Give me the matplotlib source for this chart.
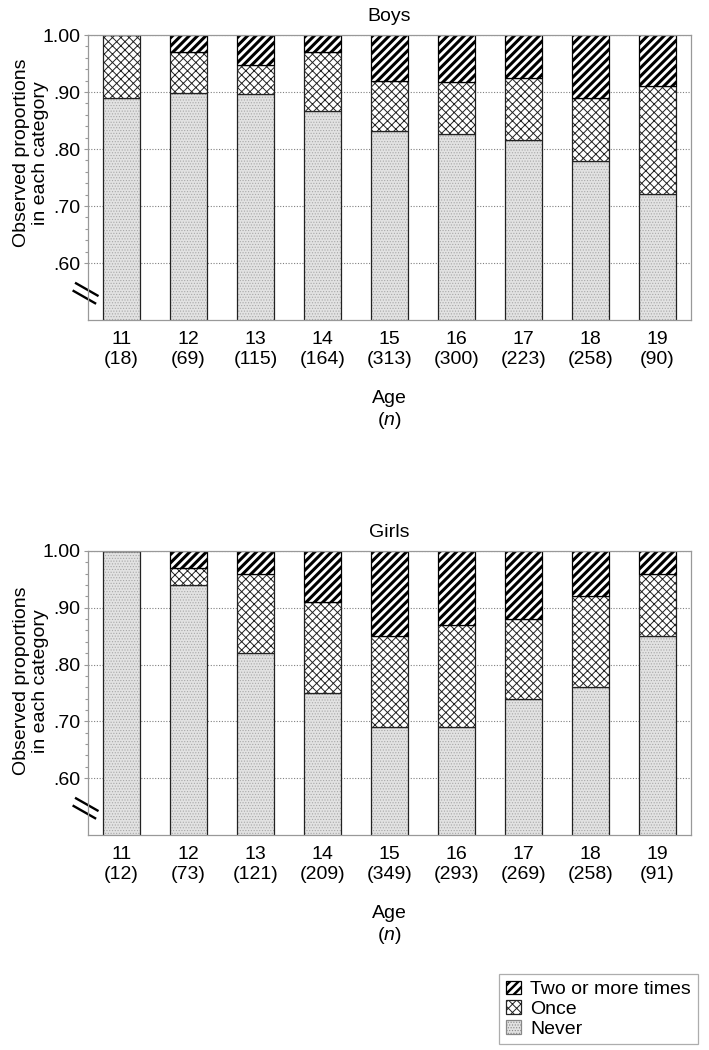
import numpy as np
import matplotlib.pyplot as plt
from matplotlib.patches import Patch
from matplotlib.ticker import FixedLocator, FixedFormatter

plt.rcParams['font.family'] = ['Liberation Sans', 'DejaVu Sans']
plt.rcParams['mathtext.fontset'] = 'custom'
plt.rcParams['mathtext.it'] = 'Liberation Sans:italic'
plt.rcParams['mathtext.rm'] = 'Liberation Sans'

# data
ages = ["11", "12", "13", "14", "15", "16", "17", "18", "19"]
boys_n = [18, 69, 115, 164, 313, 300, 223, 258, 90]
girls_n = [12, 73, 121, 209, 349, 293, 269, 258, 91]

boys_never = [0.890, 0.899, 0.896, 0.866, 0.832, 0.827, 0.816, 0.779, 0.722]
boys_once = [0.110, 0.072, 0.052, 0.105, 0.088, 0.090, 0.108, 0.111, 0.189]
boys_two = [0.000, 0.029, 0.052, 0.029, 0.080, 0.083, 0.076, 0.110, 0.089]

girls_never = [1.00, 0.94, 0.82, 0.75, 0.69, 0.69, 0.74, 0.76, 0.85]
girls_once = [0.00, 0.03, 0.14, 0.16, 0.16, 0.18, 0.14, 0.16, 0.11]
girls_two = [0.00, 0.03, 0.04, 0.09, 0.15, 0.13, 0.12, 0.08, 0.04]

ytick_vals = [0.60, 0.70, 0.80, 0.90, 1.00]
ytick_labels = [".60", ".70", ".80", ".90", "1.00"]
legend_labels = ["Two or more times", "Once", "Never"]

EDGE = "#222222"
FRAME = "#999999"
NEVER_FILL = "#e2e2e2"
NEVER_DOTS = "#a8a8a8"
W = 0.55
STRIPES = "////"
CROSS = "xxxx"
DOTS = "......"


def hatch_lw(artists, lw):
    # hatch line width is taken from rcParams when the patch is drawn
    for p in artists:
        if hasattr(p, "set_hatch_linewidth"):
            p.set_hatch_linewidth(lw)
        orig = p.draw

        def draw(renderer, _orig=orig, _lw=lw):
            with plt.rc_context({"hatch.linewidth": _lw}):
                _orig(renderer)
        p.draw = draw


def draw_panel(ax, title, n, never, once, two, ylabel_y):
    x = np.arange(len(ages))
    never = np.array(never)
    once = np.array(once)
    two = np.array(two)

    b = ax.bar(x, never, W, color=NEVER_FILL, edgecolor=NEVER_DOTS, lw=0, hatch=DOTS)
    hatch_lw(b, 0.5)
    ax.bar(x, never, W, fill=False, edgecolor=EDGE, lw=0.9)
    b = ax.bar(x, once, W, bottom=never, facecolor="white", edgecolor=EDGE, lw=0.9, hatch=CROSS)
    hatch_lw(b, 0.7)
    b = ax.bar(x, two, W, bottom=never + once, facecolor="white", edgecolor="black", lw=0.9, hatch=STRIPES)
    hatch_lw(b, 2.2)

    ax.set_xlim(-0.5, len(ages) - 0.5)
    ax.set_ylim(0.5, 1.0)
    ax.set_xticks(x)
    ax.set_xticklabels([f"{a}\n({k})" for a, k in zip(ages, n)], fontsize=14)
    ax.tick_params(axis="x", length=0, pad=8)
    ax.yaxis.set_major_locator(FixedLocator(ytick_vals))
    ax.yaxis.set_major_formatter(FixedFormatter(ytick_labels))
    ax.yaxis.set_minor_locator(FixedLocator(np.arange(0.62, 0.99, 0.02)))
    ax.tick_params(axis="y", which="major", length=3, width=0.8, color=FRAME, pad=2.5, labelsize=14)
    ax.tick_params(axis="y", which="minor", length=2.2, width=0.8, color=FRAME)
    ax.set_axisbelow(True)
    ax.yaxis.grid(True, which="major", linestyle=(0, (1, 1.5)), color="#808080", lw=0.8)
    for s in ax.spines.values():
        s.set_color(FRAME)
        s.set_linewidth(0.9)

    ax.set_title(title, fontsize=14, pad=10)
    ax.set_xlabel("Age\n($\\mathit{n}$)", fontsize=14, labelpad=16)
    fig.text(31 / 709, ylabel_y, "Observed proportions\nin each category", rotation=90,
             ha="center", va="center", fontsize=14, multialignment="center")

    # axis break mark
    for dx, dy in [(0.0, 0.0), (-0.004, -0.027)]:
        ax.plot([-0.0215 + dx, 0.0175 + dx], [0.131 + dy, 0.084 + dy], transform=ax.transAxes,
                color="black", lw=1.7, clip_on=False, solid_capstyle="butt")


fig = plt.figure(figsize=(7.09, 10.5), dpi=100)
ax1 = fig.add_axes([0.1241, 0.6952, 0.8505, 0.2714])
ax2 = fig.add_axes([0.1241, 0.2048, 0.8505, 0.2705])

draw_panel(ax1, "Boys", boys_n, boys_never, boys_once, boys_two, 1 - 153 / 1050)
draw_panel(ax2, "Girls", girls_n, girls_never, girls_once, girls_two, 1 - 681 / 1050)

h_two = Patch(facecolor="white", edgecolor="black", lw=0.9, hatch=STRIPES)
h_once = Patch(facecolor="white", edgecolor=EDGE, lw=0.9, hatch=CROSS)
h_never = Patch(facecolor=NEVER_FILL, edgecolor="#888888", lw=0.9, hatch=DOTS)

leg = fig.legend([h_two, h_once, h_never], legend_labels, loc="upper right",
                 bbox_to_anchor=(698 / 709, 1 - 974 / 1050), fontsize=14,
                 frameon=True, fancybox=False, edgecolor=FRAME,
                 handlelength=0.75, handleheight=0.7, handletextpad=0.5,
                 labelspacing=0.1, borderpad=0.35, borderaxespad=0)
leg.get_frame().set_linewidth(0.9)
lp = leg.get_patches()
hatch_lw(lp[:1], 1.8)
hatch_lw(lp[1:2], 0.7)
hatch_lw(lp[2:], 0.5)

fig.savefig("out.png", dpi=100)
plt.close(fig)
